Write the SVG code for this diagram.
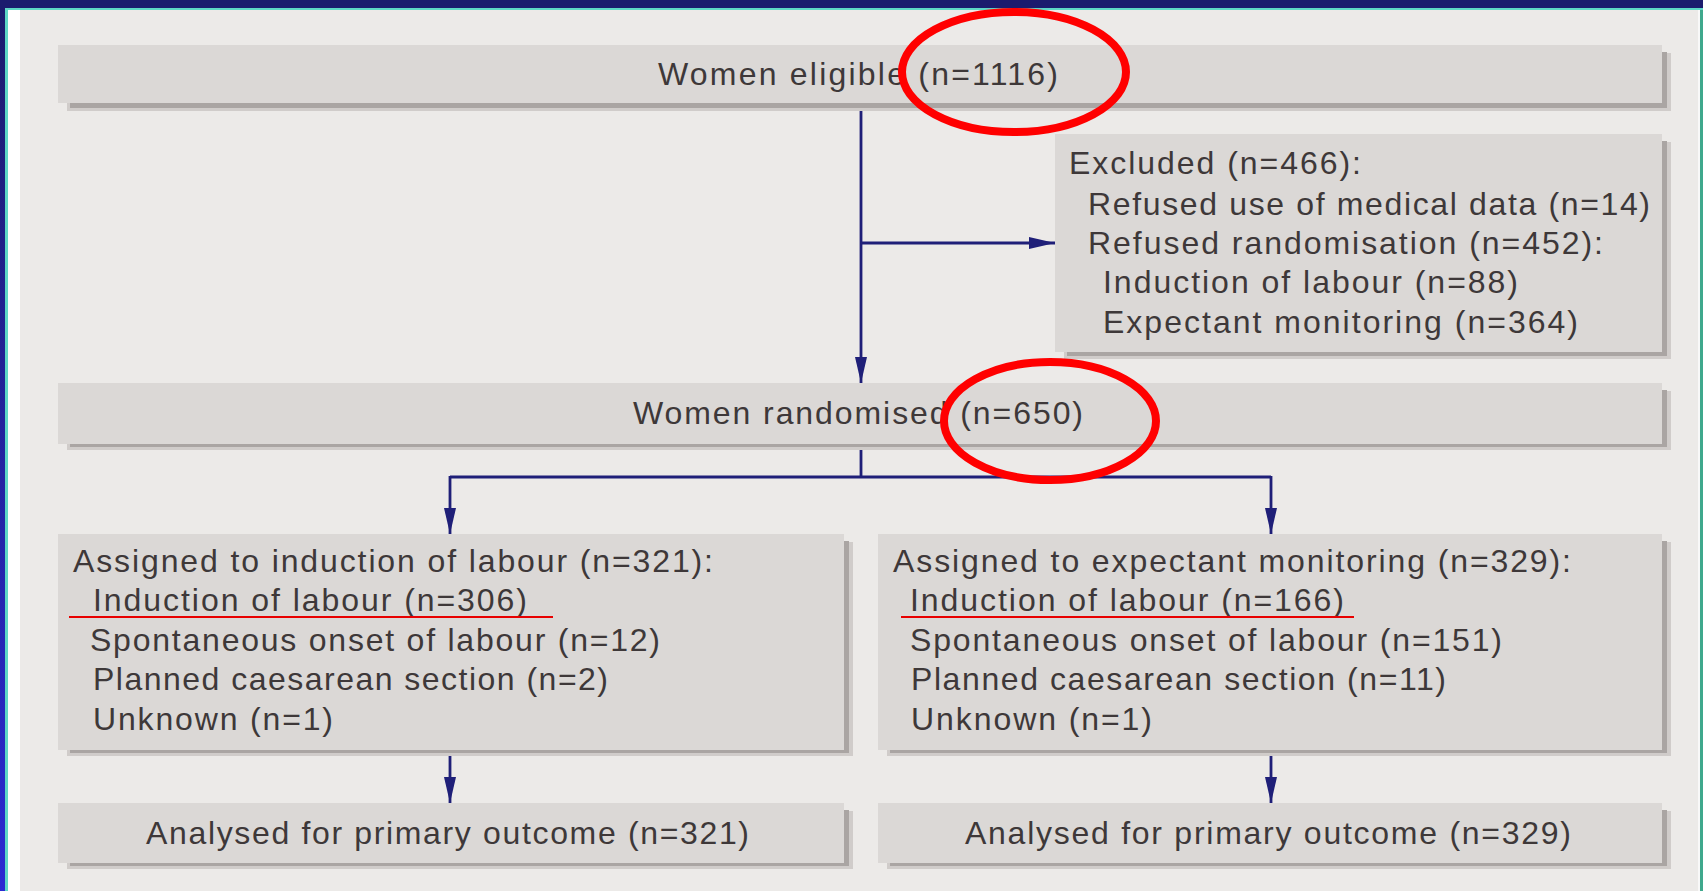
<svg xmlns="http://www.w3.org/2000/svg" width="1703" height="891" viewBox="0 0 1703 891">
  <defs>
    <linearGradient id="leftStrip" x1="0" y1="0" x2="0" y2="1">
      <stop offset="0" stop-color="#1B1B6C"/>
      <stop offset="1" stop-color="#2A2AD2"/>
    </linearGradient>
    <marker id="arrow" viewBox="0 0 26 12" refX="26" refY="6" markerWidth="26" markerHeight="12" markerUnits="userSpaceOnUse" orient="auto">
      <path d="M0,0 L26,6 L0,12 Z" fill="#1F1F78"/>
    </marker>
  </defs>
  <style>
    .bg { fill: #ECEAE8; }
    .box { fill: #DBD8D6; }
    .sh1 { fill: #D0CCCA; }
    .sh2 { fill: #AAA5A3; }
    .t { font-family: "Liberation Sans", Arial, sans-serif; font-size: 32px; fill: #3E3839; }
    .conn { stroke: #1F1F78; stroke-width: 2.8; fill: none; }
    .ring { stroke: #FF0000; stroke-width: 8; fill: none; }
    .ul { stroke: #E80000; stroke-width: 2.2; }
  </style>

  <!-- frame -->
  <rect x="0" y="0" width="1703" height="891" class="bg"/>
  <rect x="0" y="0" width="5" height="891" fill="url(#leftStrip)"/>
  <rect x="5" y="8" width="3" height="883" fill="#5ED6C6"/>
  <rect x="8" y="10" width="12" height="881" fill="#FFFFFF"/>
  <rect x="1698" y="10" width="2" height="881" fill="#F8F8F8"/>
  <rect x="1700" y="8" width="3" height="883" fill="#3FA88C"/>
  <rect x="0" y="0" width="1703" height="8" fill="#1B1B6E"/>
  <rect x="5" y="8" width="1698" height="2" fill="#5ED6C6"/>

  <!-- connectors -->
  <g id="connectors">
    <line class="conn" x1="861" y1="103" x2="861" y2="383" marker-end="url(#arrow)"/>
    <line class="conn" x1="861" y1="243" x2="1055" y2="243" marker-end="url(#arrow)"/>
    <polyline class="conn" points="861,444 861,477"/>
    <polyline class="conn" points="450,477 1271,477"/>
    <line class="conn" x1="450" y1="476" x2="450" y2="534" marker-end="url(#arrow)"/>
    <line class="conn" x1="1271" y1="476" x2="1271" y2="534" marker-end="url(#arrow)"/>
    <line class="conn" x1="450" y1="750" x2="450" y2="803" marker-end="url(#arrow)"/>
    <line class="conn" x1="1271" y1="750" x2="1271" y2="803" marker-end="url(#arrow)"/>
  </g>

  <g id="eligible">
    <rect class="sh1" x="67" y="53" width="1604" height="58"/>
    <rect class="sh2" x="70" y="52" width="1597" height="56"/>
    <rect class="box" x="58" y="45" width="1604" height="58"/>
    <text class="t" x="658" y="85" textLength="400">Women eligible (n=1116)</text>
  </g>

  <g id="excluded">
    <rect class="sh1" x="1064" y="142" width="607" height="217"/>
    <rect class="sh2" x="1067" y="141" width="600" height="215"/>
    <rect class="box" x="1055" y="134" width="607" height="218"/>
    <text class="t" x="1069" y="174" textLength="292">Excluded (n=466):</text>
    <text class="t" x="1088" y="215" textLength="562">Refused use of medical data (n=14)</text>
    <text class="t" x="1088" y="254" textLength="515">Refused randomisation (n=452):</text>
    <text class="t" x="1103" y="293" textLength="415">Induction of labour (n=88)</text>
    <text class="t" x="1103" y="333" textLength="475">Expectant monitoring (n=364)</text>
  </g>

  <g id="randomised">
    <rect class="sh1" x="67" y="391" width="1604" height="59"/>
    <rect class="sh2" x="70" y="390" width="1597" height="57"/>
    <rect class="box" x="58" y="383" width="1604" height="61"/>
    <text class="t" x="633" y="424" textLength="450">Women randomised (n=650)</text>
  </g>

  <g id="assigned-induction">
    <rect class="sh1" x="67" y="542" width="786" height="214"/>
    <rect class="sh2" x="70" y="541" width="779" height="212"/>
    <rect class="box" x="58" y="534" width="786" height="216"/>
    <text class="t" x="73" y="572" textLength="640">Assigned to induction of labour (n=321):</text>
    <text class="t" x="93" y="611" textLength="434">Induction of labour (n=306)</text>
    <text class="t" x="90" y="651" textLength="570">Spontaneous onset of labour (n=12)</text>
    <text class="t" x="93" y="690" textLength="515">Planned caesarean section (n=2)</text>
    <text class="t" x="93" y="730" textLength="240">Unknown (n=1)</text>
  </g>

  <g id="assigned-expectant">
    <rect class="sh1" x="887" y="542" width="784" height="214"/>
    <rect class="sh2" x="890" y="541" width="777" height="212"/>
    <rect class="box" x="878" y="534" width="784" height="216"/>
    <text class="t" x="893" y="572" textLength="678">Assigned to expectant monitoring (n=329):</text>
    <text class="t" x="910" y="611" textLength="434">Induction of labour (n=166)</text>
    <text class="t" x="910" y="651" textLength="592">Spontaneous onset of labour (n=151)</text>
    <text class="t" x="911" y="690" textLength="535">Planned caesarean section (n=11)</text>
    <text class="t" x="911" y="730" textLength="241">Unknown (n=1)</text>
  </g>

  <g id="analysed-induction">
    <rect class="sh1" x="67" y="811" width="786" height="58"/>
    <rect class="sh2" x="70" y="810" width="779" height="56"/>
    <rect class="box" x="58" y="803" width="786" height="60"/>
    <text class="t" x="146" y="844" textLength="603">Analysed for primary outcome (n=321)</text>
  </g>

  <g id="analysed-expectant">
    <rect class="sh1" x="887" y="811" width="784" height="58"/>
    <rect class="sh2" x="890" y="810" width="777" height="56"/>
    <rect class="box" x="878" y="803" width="784" height="60"/>
    <text class="t" x="965" y="844" textLength="606">Analysed for primary outcome (n=329)</text>
  </g>

  <g id="annotations">
    <line class="ul" x1="69" y1="617" x2="553" y2="617"/>
    <line class="ul" x1="901" y1="617" x2="1354" y2="617"/>
    <ellipse class="ring" cx="1014" cy="72" rx="112" ry="60"/>
    <ellipse class="ring" cx="1050" cy="421" rx="106" ry="59"/>
  </g>
</svg>
